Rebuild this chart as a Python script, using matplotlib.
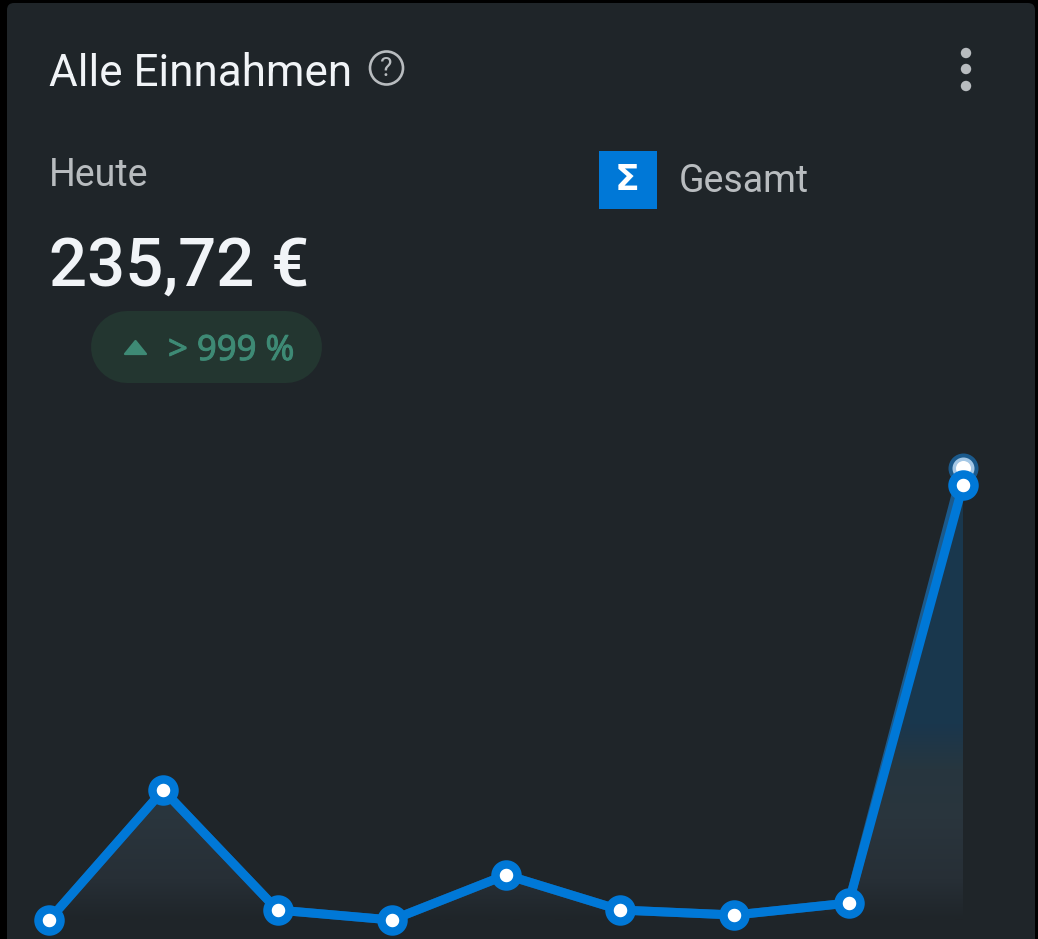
import numpy as np
import matplotlib
matplotlib.use("Agg")
import matplotlib.pyplot as plt
import matplotlib.patheffects as pe
from matplotlib.patches import FancyBboxPatch, Circle, Rectangle, Polygon
from matplotlib.colors import to_rgb

# ---- data ----
days = [0, 1, 2, 3, 4, 5, 6, 7, 8]
einnahmen = [0.0, 70.4, 5.4, 0.0, 24.4, 5.4, 2.7, 9.2, 235.72]
vergleich = [0.0, 70.4, 5.4, 0.0, 24.4, 5.4, 2.7, 9.2, 244.9]
title = "Alle Einnahmen"
period = "Heute"
amount = "235,72 €"
change = "> 999 %"
legend_label = "Gesamt"

W, H = 1038, 939
BG = "#1f2529"
BLUE = "#0078d7"
GHOST = "#1b5a8c"
MUTED = "#b8bcbf"

fig = plt.figure(figsize=(W / 100, H / 100), dpi=100, facecolor="black")

# overlay in pixel coordinates for the card furniture
ui = fig.add_axes([0, 0, 1, 1], zorder=1)
ui.set_xlim(0, W); ui.set_ylim(H, 0); ui.axis("off")
ui.add_patch(FancyBboxPatch((7, 3), 1028, 960, boxstyle="round,pad=0,rounding_size=7",
                            fc=BG, ec="none"))

FONT = "Roboto"
ui.text(49, 74, title, color="#f1f4f7", fontsize=31.7, family=FONT, va="center", ha="left")
ui.text(49, 176, period, color=MUTED, fontsize=27, family=FONT, va="center", ha="left")
ui.text(49, 268, amount, color="#f1f4f7", fontsize=48.3, family=FONT, weight="medium", va="center", ha="left")
ui.text(679, 182, legend_label, color=MUTED, fontsize=27, family=FONT, va="center", ha="left")

# help icon
ui.add_patch(Circle((386.5, 68), 16.5, fc="none", ec=MUTED, lw=1.9))
ui.text(386.5, 69, "?", color=MUTED, fontsize=19, family=FONT, va="center", ha="center")
# menu dots
for y in (53, 69, 86):
    ui.add_patch(Circle((966, y), 5.2, fc=MUTED, ec="none"))
# legend swatch
ui.add_patch(Rectangle((599, 151), 58, 58, fc=BLUE, ec="none"))
ui.text(627.5, 180, "Σ", color="white", fontsize=26, family="DejaVu Sans", weight="bold", va="center", ha="center")
# badge: a round-capped stroke gives a true pill
ui.plot([127, 286], [347, 347], color="#233630", lw=72 * 0.72, solid_capstyle="round")
ui.add_patch(Polygon([(125, 354), (146, 354), (135.5, 341)], closed=True, fc="#3e8a75", ec="#3e8a75",
                     lw=1.6, joinstyle="round", zorder=3))
ui.text(168, 351, change, color="#3e8a75", fontsize=25, family="Noto Sans", va="center", ha="left",
        path_effects=[pe.withStroke(linewidth=0.7, foreground="#3e8a75")])
ui.set_xlim(0, W); ui.set_ylim(H, 0)

# chart axes: covers the whole figure, scaled so the data lands on its pixels
PX0, PXSTEP = 49.0, 114.25
PY0, PYK = 920.0, 0.5419
ax = fig.add_axes([0, 0, 1, 1], zorder=2)
ax.patch.set_alpha(0)
ax.axis("off")
xlim = ((0 - PX0) / PXSTEP, (W - PX0) / PXSTEP)
ylim = ((PY0 - H) * PYK, (PY0 - 0) * PYK)

# gradient under the line
stops_px = np.array([480, 725, 770, 820, 880, 920])
stops_rgb = np.array([to_rgb(c) for c in
                      ["#19384e", "#1a374d", "#27363f", "#2a353d", "#272f36", BG]])
grid = np.arange(480, 921)
img = np.stack([np.interp(grid, stops_px, stops_rgb[:, i]) for i in range(3)], axis=1)[:, None, :]
poly = ax.fill_between(days, einnahmen, 0, color="none", lw=0)
im = ax.imshow(img, extent=(0, 8, 0, (PY0 - 480) * PYK), aspect="auto", zorder=1, interpolation="bilinear")
im.set_clip_path(poly.get_paths()[0], transform=ax.transData)

LW = 9 * 0.72
ms, mew = 22 * 0.72, 8.5 * 0.72
ax.plot(days, vergleich, color=GHOST, lw=LW, zorder=2, solid_capstyle="round")
ax.plot(days[-1:], vergleich[-1:], "o", ms=30 * 0.72, mew=0, mfc=GHOST, zorder=3)
ax.plot(days[-1:], vergleich[-1:], "o", ms=22 * 0.72, mew=0, mfc="#a5c8e6", zorder=3)
ax.plot(days[-1:], vergleich[-1:], "o", ms=15 * 0.72, mew=0, mfc="white", zorder=3)
ax.plot(days, einnahmen, color=BLUE, lw=LW, zorder=4, solid_joinstyle="round")
ax.plot(days, einnahmen, "o", ms=ms, mew=mew, mec=BLUE, mfc="white", zorder=5)
ax.set_xlim(*xlim)
ax.set_ylim(*ylim)

fig.savefig("out.png", dpi=100, facecolor="black")
